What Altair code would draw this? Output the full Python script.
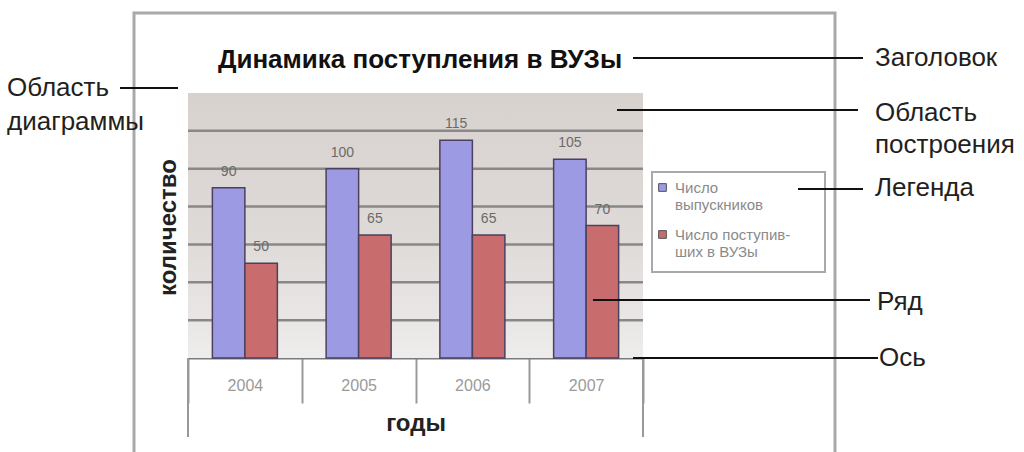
import altair as alt
import pandas as pd

# ---- chart values ----
years = ["2004", "2005", "2006", "2007"]
series = ["Число выпускников", "Число поступивших в ВУЗы"]
graduates = [90, 100, 115, 105]
entrants = [50, 65, 65, 70]
grid_values = [20, 40, 60, 80, 100, 120]
colors = ["#9c9ae2", "#c96c6e"]
chart_title = "Динамика поступления в ВУЗы"

rows = []
for i, y in enumerate(years):
    rows.append({"year": y, "series": series[0], "value": graduates[i]})
    rows.append({"year": y, "series": series[1], "value": entrants[i]})
df = pd.DataFrame(rows)
grid_df = pd.DataFrame({"value": grid_values})
one = pd.DataFrame({"a": [0]})

# plot-area geometry (pixels of the page)
PX, PY, PW, PH = 188, 93, 455, 265
FONT = "Liberation Sans"
INK = "#231f20"


def rx(x):
    return x - PX


def ry(y):
    return y - PY


def deco_text(text, x, y, size=26, weight="normal", color=INK, align="left", line_height=None):
    kw = dict(text=text, font=FONT, fontSize=size, fontWeight=weight, color=color,
              align=align, baseline="middle")
    if line_height is not None:
        kw["lineHeight"] = line_height
    return alt.Chart(one).mark_text(**kw).encode(x=alt.value(rx(x)), y=alt.value(ry(y)))


def deco_line(x1, x2, y, color="#111111", width=2):
    return alt.Chart(one).mark_rule(color=color, strokeWidth=width).encode(
        x=alt.value(rx(x1)), x2=alt.value(rx(x2)), y=alt.value(ry(y)))


def deco_vline(x, y1, y2, color="#999999", width=2):
    return alt.Chart(one).mark_rule(color=color, strokeWidth=width).encode(
        x=alt.value(rx(x)), y=alt.value(ry(y1)), y2=alt.value(ry(y2)))


# chart-area frame
frame = alt.Chart(one).mark_rect(fillOpacity=0, stroke="#a9a9a9", strokeWidth=3).encode(
    x=alt.value(rx(134)), x2=alt.value(rx(835)), y=alt.value(ry(13)), y2=alt.value(ry(480)))

# plot-area background
bg = alt.Chart(one).mark_rect(
    color=alt.Gradient(
        gradient="linear", x1=0, x2=0, y1=0, y2=1,
        stops=[alt.GradientStop(offset=0, color="#d8d2cf"),
               alt.GradientStop(offset=0.55, color="#dedad8"),
               alt.GradientStop(offset=1, color="#eeecec")])
).encode(x=alt.value(0), x2=alt.value(PW), y=alt.value(0), y2=alt.value(PH))

y_scale = alt.Scale(domain=[0, 140])
y_axis = alt.Axis(values=grid_values, grid=False, domain=False, ticks=False,
                  labelFont=FONT, labelFontSize=9, labelColor="#bdb6b4",
                  labelAlign="left", labelBaseline="bottom", labelPadding=-4,
                  title="количество", titleFont=FONT, titleFontSize=24,
                  titleFontWeight="bold", titleColor="#222222",
                  titleAngle=270, titleX=-20, titleY=134,
                  titleBaseline="middle", titleAlign="center")

grid = alt.Chart(grid_df).mark_rule(color="#8c8787", strokeWidth=2.5).encode(
    y=alt.Y("value:Q", scale=y_scale, axis=y_axis),
    x=alt.value(0), x2=alt.value(PW))

x_enc = alt.X("year:N", sort=years, scale=alt.Scale(paddingInner=0, paddingOuter=0),
              axis=alt.Axis(title="годы", titleFont=FONT, titleFontSize=24, titleFontWeight="bold",
                            titleColor="#222222", titleY=65, titleBaseline="middle",
                            labelFont=FONT, labelColor="#9a9a9a", labelFontSize=16,
                            labelPadding=-26, labelAngle=0,
                            domainColor="#7a7a7a", domainWidth=2,
                            ticks=True, tickBand="extent", tickSize=45,
                            tickColor="#9a9a9a", tickWidth=2))
xo_enc = alt.XOffset("series:N", sort=series,
                     scale=alt.Scale(paddingInner=0, paddingOuter=0.75))
y_enc = alt.Y("value:Q", scale=y_scale, axis=y_axis)
c_enc = alt.Color("series:N", sort=series,
                  scale=alt.Scale(domain=series, range=colors),
                  legend=alt.Legend(orient="none", legendX=rx(655), legendY=ry(180),
                                    title=None, symbolType="square", symbolSize=60,
                                    symbolStrokeColor="#555555", symbolStrokeWidth=1,
                                    labelFont=FONT, labelFontSize=15, labelColor="#8a8a8a",
                                    labelExpr="datum.label == 'Число выпускников' ? ['Число', 'выпускников'] : ['Число поступив-', 'ших в ВУЗы']",
                                    rowPadding=14, labelOffset=5))

bars = alt.Chart(df).mark_bar(stroke="#4b4060", strokeWidth=1.5).encode(
    x=x_enc, xOffset=xo_enc, y=y_enc, color=c_enc)

labels = alt.Chart(df).mark_text(font=FONT, fontSize=14, color="#6a6a6a",
                                 baseline="bottom", dy=-9).encode(
    x=alt.X("year:N", sort=years), xOffset=alt.XOffset("series:N", sort=series),
    y=alt.Y("value:Q"), text=alt.Text("value:Q"))

legend_box = alt.Chart(one).mark_rect(fill="white", stroke="#a9a9a9", strokeWidth=2).encode(
    x=alt.value(rx(652)), x2=alt.value(rx(825)), y=alt.value(ry(172)), y2=alt.value(ry(272)))

outer_left = deco_vline(PX, 358, 437)
outer_right = deco_vline(PX + PW, 358, 437)

title_mark = deco_text(chart_title, 420, 60, size=26, weight="bold", color="#111111", align="center")

layers = [
    frame, bg, grid, legend_box, bars, labels, outer_left, outer_right, title_mark,
    # callouts
    deco_line(633, 863, 58), deco_text("Заголовок", 875, 58),
    deco_line(617, 858, 110), deco_text(["Область", "построения"], 875, 113, line_height=32),
    deco_line(798, 863, 189), deco_text("Легенда", 875, 188),
    deco_line(593, 870, 300), deco_text("Ряд", 877, 302),
    deco_line(633, 878, 358), deco_text("Ось", 879, 358),
    deco_line(120, 178, 88), deco_text(["Область", "диаграммы"], 7, 88, line_height=34),
]

chart = alt.layer(*layers).properties(
    width=PW, height=PH,
    autosize=alt.AutoSizeParams(type="none"),
    padding={"left": PX, "top": PY, "right": 1024 - PX - PW, "bottom": 452 - PY - PH},
    background="white",
).configure_view(stroke=None)

chart.save("out.html", embed_options={"renderer": "svg", "actions": False})
